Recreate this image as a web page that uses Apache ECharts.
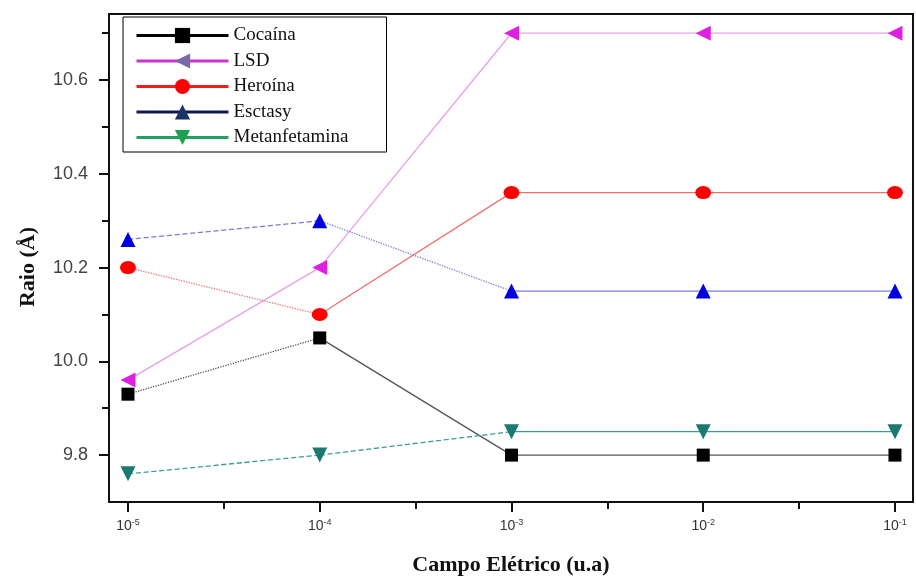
<!DOCTYPE html>
<html>
<head>
<meta charset="utf-8">
<script src="https://cdn.jsdelivr.net/npm/echarts@6/dist/echarts.min.js"></script>
<style>
  html, body { margin: 0; padding: 0; background: #fff; }
  #chart { width: 916px; height: 581px; }
</style>
</head>
<body>
<div id="chart"></div>
<script>
// Electric field exponents (10^n) on the x axis
const fieldExponents = [-5, -4, -3, -2, -1];
const xMinorTicks = [-4.5, -3.5, -2.5, -1.5];
const yLabelValues = [9.8, 10.0, 10.2, 10.4, 10.6];
const yMinorTicks = [9.9, 10.1, 10.3, 10.5, 10.7];

const seriesNames = ['Cocaína', 'LSD', 'Heroína', 'Esctasy', 'Metanfetamina'];

// Radius (Å) for each drug at each field value
const cocaina = [9.93, 10.05, 9.80, 9.80, 9.80];
const lsd = [9.96, 10.20, 10.70, 10.70, 10.70];
const heroina = [10.20, 10.10, 10.36, 10.36, 10.36];
const esctasy = [10.26, 10.30, 10.15, 10.15, 10.15];
const metanfetamina = [9.76, 9.80, 9.85, 9.85, 9.85];

const values = [cocaina, lsd, heroina, esctasy, metanfetamina];

// Per-drug drawing styles
const styles = [
  { marker: '#000000', line: '#555555', legendLine: '#000000', legendMarker: '#000000',
    symbol: 'rect', size: 13, rotate: 0, segments: ['dotted', 'solid', 'solid', 'solid'] },
  { marker: '#e020e0', line: '#e8a0e8', legendLine: '#cc33cc', legendMarker: '#7a68a8',
    symbol: 'triangle', size: 15, rotate: 90, segments: ['solid', 'solid', 'solid', 'solid'] },
  { marker: '#ff0000', line: '#f07070', legendLine: '#ff1a1a', legendMarker: '#ff0000',
    symbol: 'circle', size: [16, 13], rotate: 0, segments: ['dotted', 'solid', 'solid', 'solid'] },
  { marker: '#0000e0', line: '#7c7cd8', legendLine: '#101850', legendMarker: '#1a3266',
    symbol: 'triangle', size: 15, rotate: 0, segments: ['dashed', 'dotted', 'solid', 'solid'] },
  { marker: '#1a7a70', line: '#3c9c98', legendLine: '#22a060', legendMarker: '#1fa050',
    symbol: 'triangle', size: 15, rotate: 180, segments: ['dashed', 'dashed', 'solid', 'solid'] }
];

const series = [];
values.forEach((vals, k) => {
  const st = styles[k];
  const pts = fieldExponents.map((x, i) => [x, vals[i]]);
  // connecting segments, each with its own dash pattern
  for (let i = 0; i < pts.length - 1; i++) {
    series.push({
      type: 'line',
      name: seriesNames[k] + ' segmento ' + (i + 1),
      data: [pts[i], pts[i + 1]],
      symbol: 'none',
      silent: true,
      z: 2,
      lineStyle: { color: st.line, width: 1.3, type: st.segments[i] }
    });
  }
  // markers
  series.push({
    type: 'line',
    name: seriesNames[k],
    data: pts,
    symbol: st.symbol,
    symbolSize: st.size,
    symbolRotate: st.rotate,
    z: 5,
    itemStyle: { color: st.marker },
    lineStyle: { width: 0, opacity: 0 }
  });
});

const chart = echarts.init(document.getElementById('chart'), null, { renderer: 'canvas' });

const xMin = -5.099, xMax = -0.906;
const yMin = 9.7, yMax = 10.741;

chart.setOption({
  animation: false,
  backgroundColor: '#ffffff',
  grid: {
    left: 109, right: 3, top: 14, bottom: 79,
    show: true, borderColor: '#111', borderWidth: 2, backgroundColor: 'transparent'
  },
  legend: {
    orient: 'vertical',
    left: 123, top: 17,
    backgroundColor: '#fff',
    borderColor: '#000', borderWidth: 1,
    padding: [9, 38, 5, 12],
    itemWidth: 92, itemHeight: 19, itemGap: 6.5,
    textStyle: { fontFamily: 'Liberation Serif', fontSize: 19, color: '#111' },
    data: seriesNames.map((n, k) => ({
      name: n,
      itemStyle: { color: styles[k].legendMarker },
      lineStyle: { color: styles[k].legendLine, width: 3, type: 'solid', opacity: 1 }
    }))
  },
  xAxis: [
    {
      type: 'value', min: xMin, max: xMax,
      name: 'Campo Elétrico (u.a)', nameLocation: 'middle', nameGap: 52,
      nameTextStyle: { fontFamily: 'Liberation Serif', fontWeight: 'bold', fontSize: 22, color: '#111' },
      axisLine: { show: true, onZero: false, lineStyle: { color: '#111', width: 2 } },
      axisTick: { show: true, customValues: fieldExponents, length: 10, lineStyle: { color: '#111', width: 2 } },
      axisLabel: {
        customValues: fieldExponents, margin: 16, color: '#333',
        formatter: v => '{b|10}{s|-' + Math.abs(v) + '}',
        rich: {
          b: { fontFamily: 'Liberation Sans', fontSize: 14, color: '#333' },
          s: { fontFamily: 'Liberation Sans', fontSize: 9, color: '#333', padding: [0, 0, 8, 0] }
        }
      },
      splitLine: { show: false }
    },
    {
      type: 'value', min: xMin, max: xMax, position: 'bottom',
      axisLine: { show: false },
      axisTick: { show: true, customValues: xMinorTicks, length: 7, lineStyle: { color: '#111', width: 2 } },
      axisLabel: { show: false },
      splitLine: { show: false }
    }
  ],
  yAxis: [
    {
      type: 'value', min: yMin, max: yMax,
      name: 'Raio (Å)', nameLocation: 'middle', nameGap: 70, nameRotate: 90,
      nameTextStyle: { fontFamily: 'Liberation Serif', fontWeight: 'bold', fontSize: 22, color: '#111', padding: [0, 18, 0, 0] },
      axisLine: { show: true, onZero: false, lineStyle: { color: '#111', width: 2 } },
      axisTick: { show: true, customValues: yLabelValues, length: 10, lineStyle: { color: '#111', width: 2 } },
      axisLabel: {
        customValues: yLabelValues, margin: 21, color: '#444',
        fontFamily: 'Liberation Sans', fontSize: 18,
        formatter: v => v.toFixed(1)
      },
      splitLine: { show: false }
    },
    {
      type: 'value', min: yMin, max: yMax, position: 'left',
      axisLine: { show: false },
      axisTick: { show: true, customValues: yMinorTicks, length: 7, lineStyle: { color: '#111', width: 2 } },
      axisLabel: { show: false },
      splitLine: { show: false }
    }
  ],
  series: series
});
</script>
</body>
</html>
